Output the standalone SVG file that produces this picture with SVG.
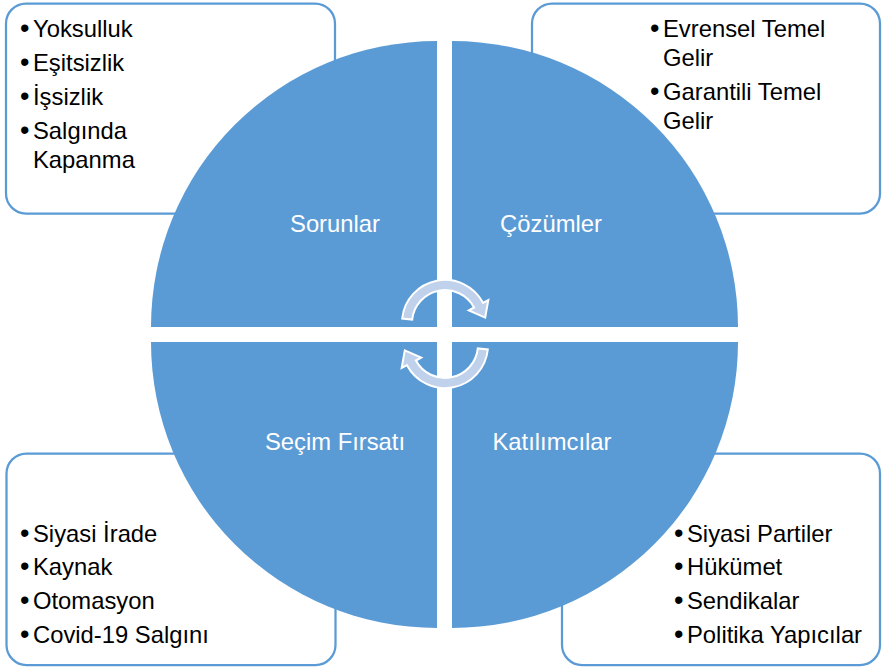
<svg xmlns="http://www.w3.org/2000/svg" width="882" height="668" viewBox="0 0 882 668">
<style>
.box{fill:#fff;stroke:#5B9BD5;stroke-width:2.25}
.quad{fill:#5B9BD5}
.lbl{font-family:'Liberation Sans',Arial,sans-serif;font-size:23.8px;fill:#fff;text-anchor:middle}
.txt{font-family:'Liberation Sans',Arial,sans-serif;font-size:23.8px;fill:#000}
.blt{font-size:27px}
.arr{fill:#BFD1EB;stroke:#fff;stroke-width:2;stroke-linejoin:miter}
</style>
<rect width="882" height="668" fill="#fff"/>
<g id="box-sorunlar">
<rect class="box" x="6" y="3.5" width="329" height="210" rx="20"/>
<text class="txt"><tspan class="blt" x="20" y="37">•</tspan><tspan x="33" y="37">Yoksulluk</tspan></text>
<text class="txt"><tspan class="blt" x="20" y="71">•</tspan><tspan x="33" y="71">Eşitsizlik</tspan></text>
<text class="txt"><tspan class="blt" x="20" y="104.5">•</tspan><tspan x="33" y="104.5">İşsizlik</tspan></text>
<text class="txt"><tspan class="blt" x="20" y="139">•</tspan><tspan x="33" y="139">Salgında</tspan><tspan x="33" y="168">Kapanma</tspan></text>
</g>
<g id="box-cozumler">
<rect class="box" x="532" y="3.5" width="348" height="210" rx="20"/>
<text class="txt"><tspan class="blt" x="650" y="37">•</tspan><tspan x="663" y="37">Evrensel Temel</tspan><tspan x="663" y="65.5">Gelir</tspan></text>
<text class="txt"><tspan class="blt" x="650" y="100">•</tspan><tspan x="663" y="100">Garantili Temel</tspan><tspan x="663" y="128.5">Gelir</tspan></text>
</g>
<g id="box-secim">
<rect class="box" x="6.5" y="453.5" width="329" height="211.5" rx="20"/>
<text class="txt"><tspan class="blt" x="20" y="542">•</tspan><tspan x="33" y="542">Siyasi İrade</tspan></text>
<text class="txt"><tspan class="blt" x="20" y="575">•</tspan><tspan x="33" y="575">Kaynak</tspan></text>
<text class="txt"><tspan class="blt" x="20" y="608.5">•</tspan><tspan x="33" y="608.5">Otomasyon</tspan></text>
<text class="txt"><tspan class="blt" x="20" y="642.5">•</tspan><tspan x="33" y="642.5">Covid-19 Salgını</tspan></text>
</g>
<g id="box-katilimcilar">
<rect class="box" x="562" y="453.5" width="318" height="211.5" rx="20"/>
<text class="txt"><tspan class="blt" x="674" y="542">•</tspan><tspan x="687" y="542">Siyasi Partiler</tspan></text>
<text class="txt"><tspan class="blt" x="674" y="575">•</tspan><tspan x="687" y="575">Hükümet</tspan></text>
<text class="txt"><tspan class="blt" x="674" y="608.5">•</tspan><tspan x="687" y="608.5">Sendikalar</tspan></text>
<text class="txt"><tspan class="blt" x="674" y="642.5">•</tspan><tspan x="687" y="642.5">Politika Yapıcılar</tspan></text>
</g>
<g id="sorunlar">
<path class="quad" d="M437,327 L151,327 A286,286 0 0 1 437,41 Z"/>
<text class="lbl" x="335" y="232">Sorunlar</text>
</g>
<g id="cozumler">
<path class="quad" d="M452,327 L452,41 A286,286 0 0 1 738,327 Z"/>
<text class="lbl" x="551" y="232">Çözümler</text>
</g>
<g id="secim-firsati">
<path class="quad" d="M437,342 L437,628 A286,286 0 0 1 151,342 Z"/>
<text class="lbl" x="335" y="450">Seçim Fırsatı</text>
</g>
<g id="katilimcilar">
<path class="quad" d="M452,342 L738,342 A286,286 0 0 1 452,628 Z"/>
<text class="lbl" x="552" y="450">Katılımcılar</text>
</g>
<g id="connectors">
<path id="arrow-top" class="arr" d="M402.2,318.5 A43,43 0 0 1 483.0,302.8 L488.3,300.0 L485.2,317.6 L468.8,310.3 L474.1,307.5 A33,33 0 0 0 412.2,319.6 Z"/>
<path id="arrow-bottom" class="arr" transform="rotate(180 445 334)" d="M402.2,318.5 A43,43 0 0 1 483.0,302.8 L488.3,300.0 L485.2,317.6 L468.8,310.3 L474.1,307.5 A33,33 0 0 0 412.2,319.6 Z"/>
</g>
</svg>
